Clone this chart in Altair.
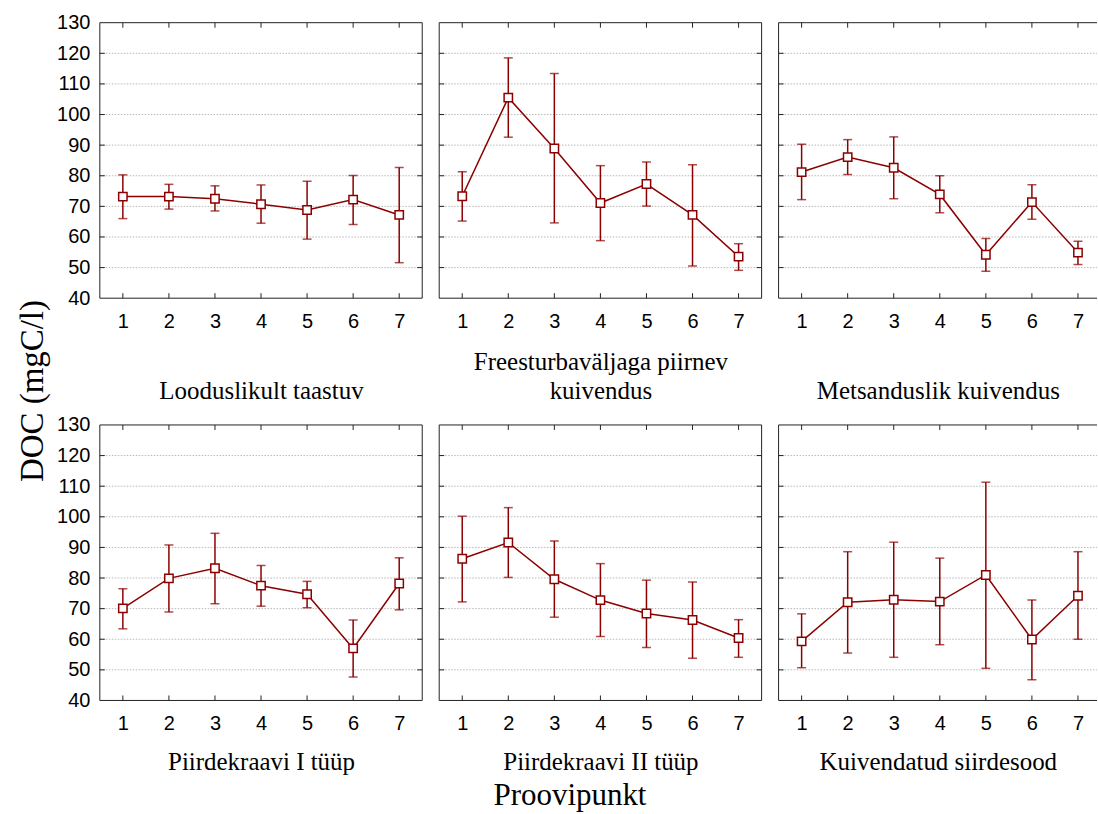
import altair as alt
import pandas as pd

POINTS = [1, 2, 3, 4, 5, 6, 7]
Y_TICKS = [40, 50, 60, 70, 80, 90, 100, 110, 120, 130]
GRID = [50, 60, 70, 80, 90, 100, 110, 120]

TITLES = [
    "Looduslikult taastuv",
    ["Freesturbaväljaga piirnev", "kuivendus"],
    "Metsanduslik kuivendus",
    "Piirdekraavi I tüüp",
    "Piirdekraavi II tüüp",
    "Kuivendatud siirdesood",
]

MEAN_1 = [73.2, 73.2, 72.5, 70.7, 68.8, 72.2, 67.2]
LO_1 = [66.0, 69.1, 68.5, 64.5, 59.3, 64.1, 51.6]
HI_1 = [80.3, 77.2, 76.7, 77.0, 78.2, 80.1, 82.7]

MEAN_2 = [73.3, 105.5, 88.9, 71.1, 77.3, 67.2, 53.6]
LO_2 = [65.2, 92.6, 64.6, 58.8, 70.1, 50.5, 49.1]
HI_2 = [81.3, 118.5, 113.4, 83.3, 84.5, 83.6, 57.8]

MEAN_3 = [81.2, 86.1, 82.6, 73.9, 54.2, 71.4, 54.9]
LO_3 = [72.2, 80.4, 72.5, 67.9, 48.8, 65.8, 51.0]
HI_3 = [90.3, 91.8, 92.7, 80.0, 59.5, 77.1, 58.6]

MEAN_4 = [70.1, 79.9, 83.2, 77.5, 74.7, 57.0, 78.2]
LO_4 = [63.4, 68.9, 71.6, 70.8, 70.3, 47.7, 69.6]
HI_4 = [76.5, 90.8, 94.6, 84.1, 78.9, 66.3, 86.6]

MEAN_5 = [86.3, 91.6, 79.6, 72.8, 68.4, 66.3, 60.4]
LO_5 = [72.2, 80.2, 67.2, 60.9, 57.3, 53.8, 54.1]
HI_5 = [100.2, 103.0, 92.1, 84.7, 79.3, 78.7, 66.4]

MEAN_6 = [59.3, 72.1, 72.9, 72.3, 81.0, 59.9, 74.2]
LO_6 = [50.7, 55.5, 54.1, 58.2, 50.5, 46.8, 60.0]
HI_6 = [68.3, 88.6, 91.7, 86.5, 111.3, 72.8, 88.6]

Y_TITLE = ["DOC (mgC/l)"]
X_TITLE = ["Proovipunkt"]

RED = "#8B0000"
FRAME = "#222222"
GRIDC = "#b8b8b8"
SANS = "Liberation Sans"
SERIF = "Liberation Serif"

W = 323
W_LAST = 319
H = 276
PX_PER_UNIT = W / 7.0
TITLE_LH = 29


def panel(mean, lo, hi, title, row, col):
    last = col == 2
    w = W_LAST if last else W
    xmax = 0.5 + w / PX_PER_UNIT
    xs = alt.Scale(domain=[0.5, xmax], nice=False, zero=False)
    ys = alt.Scale(domain=[40, 130], nice=False, zero=False)

    ty = 105 if row == 0 else 74
    if isinstance(title, list):
        ty -= TITLE_LH * (len(title) - 1)

    xaxis = alt.Axis(
        values=POINTS, format="d", ticks=False, tickSize=0, domain=False, grid=False,
        labelFont=SANS, labelFontSize=20, labelColor="black", labelPadding=13,
        labelFlush=False, labelOverlap=False,
        title=title, titleFont=SERIF, titleFontSize=25, titleFontWeight="normal",
        titleColor="black", titleBaseline="bottom", titleAlign="center",
        titleX=w / 2, titleY=ty, titleLineHeight=TITLE_LH,
    )
    if col == 0:
        yaxis = alt.Axis(
            values=Y_TICKS, ticks=False, tickSize=0, domain=False, grid=False,
            labelFont=SANS, labelFontSize=20, labelColor="black", labelPadding=10,
            labelFlush=False, labelOverlap=False, title="",
        )
    else:
        yaxis = None

    df = pd.DataFrame({"pt": POINTS, "mean": mean, "lo": lo, "hi": hi})
    gdf = pd.DataFrame({"g": GRID})
    pdf = pd.DataFrame({"p": POINTS})
    fdf = pd.DataFrame({"f": [0]})

    def X(f):
        return alt.X(f + ":Q", scale=xs, axis=xaxis)

    def Y(f):
        return alt.Y(f + ":Q", scale=ys, axis=yaxis)

    layers = []
    layers.append(alt.Chart(gdf).mark_rule(color=GRIDC, strokeDash=[1.5, 1.5], strokeWidth=1).encode(
        y=Y("g"), x=alt.value(0), x2=alt.value(w)))
    layers.append(alt.Chart(gdf).mark_rule(color=FRAME, strokeWidth=1).encode(
        y=Y("g"), x=alt.value(0), x2=alt.value(5)))
    if not last:
        layers.append(alt.Chart(gdf).mark_rule(color=FRAME, strokeWidth=1).encode(
            y=Y("g"), x=alt.value(w - 5), x2=alt.value(w)))
    layers.append(alt.Chart(pdf).mark_rule(color=FRAME, strokeWidth=1).encode(
        x=X("p"), y=alt.value(0), y2=alt.value(5)))
    layers.append(alt.Chart(pdf).mark_rule(color=FRAME, strokeWidth=1).encode(
        x=X("p"), y=alt.value(H - 5), y2=alt.value(H)))
    # frame
    layers.append(alt.Chart(fdf).mark_rule(color=FRAME, strokeWidth=1).encode(
        x=alt.value(0), x2=alt.value(w), y=alt.value(0)))
    layers.append(alt.Chart(fdf).mark_rule(color=FRAME, strokeWidth=1).encode(
        x=alt.value(0), x2=alt.value(w), y=alt.value(H)))
    layers.append(alt.Chart(fdf).mark_rule(color=FRAME, strokeWidth=1).encode(
        x=alt.value(0), y=alt.value(0), y2=alt.value(H)))
    if not last:
        layers.append(alt.Chart(fdf).mark_rule(color=FRAME, strokeWidth=1).encode(
            x=alt.value(w), y=alt.value(0), y2=alt.value(H)))

    base = alt.Chart(df)
    layers.append(base.mark_rule(color=RED, strokeWidth=1.5).encode(
        x=X("pt"), y=Y("lo"), y2="hi:Q"))
    for f in ["lo", "hi"]:
        layers.append(base.mark_tick(color=RED, orient="horizontal", size=9, thickness=1.5).encode(
            x=X("pt"), y=Y(f)))
    layers.append(base.mark_line(color=RED, strokeWidth=1.5).encode(
        x=X("pt"), y=Y("mean")))
    layers.append(base.mark_square(size=70, filled=True, fill="white", stroke=RED,
                                   strokeWidth=1.5, opacity=1).encode(
        x=X("pt"), y=Y("mean")))

    if row == 0 and col == 0:
        layers.append(alt.Chart(pd.DataFrame({"t": Y_TITLE})).mark_text(
            font=SERIF, fontSize=33, angle=270, align="center", baseline="alphabetic",
            color="black").encode(text="t:N", x=alt.value(-57), y=alt.value(369)))
    if row == 1 and col == 1:
        layers.append(alt.Chart(pd.DataFrame({"t": X_TITLE})).mark_text(
            font=SERIF, fontSize=31, align="center", baseline="alphabetic",
            color="black").encode(text="t:N", x=alt.value(131), y=alt.value(381)))

    return alt.layer(*layers).properties(width=w, height=H)


SERIES = [
    (MEAN_1, LO_1, HI_1), (MEAN_2, LO_2, HI_2), (MEAN_3, LO_3, HI_3),
    (MEAN_4, LO_4, HI_4), (MEAN_5, LO_5, HI_5), (MEAN_6, LO_6, HI_6),
]

panels = []
for i, (m, l, h) in enumerate(SERIES):
    panels.append(panel(m, l, h, TITLES[i], i // 3, i % 3))

chart = alt.concat(*panels, columns=3, spacing={"row": 127, "column": 17}, bounds="flush").properties(
    padding={"left": 16, "top": 11, "right": 0, "bottom": 0},
    background="white",
).configure_view(stroke="transparent")

chart.save("out.html", embed_options={"renderer": "svg", "actions": False})
